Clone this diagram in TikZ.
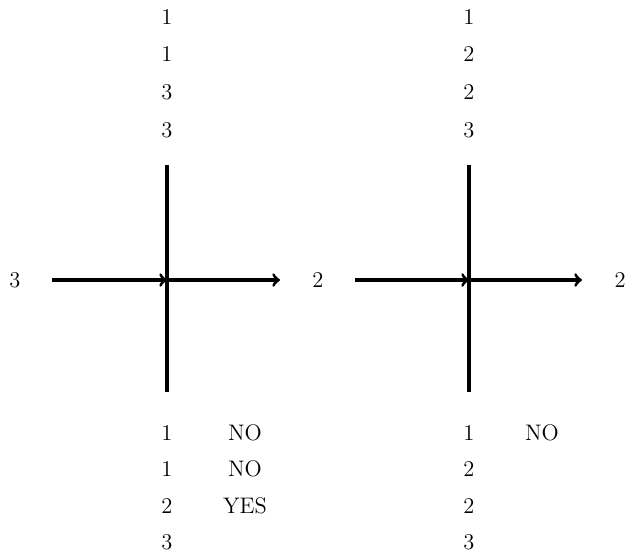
\documentclass[tikz,border=0pt]{standalone}
\begin{document}
\begin{tikzpicture}[x=0.6pt,y=-0.6pt,
  wire/.style={line width=1.85pt},
  arr/.style={line width=1.85pt,->},
  lbl/.style={inner sep=0pt,font=\fontsize{13.5}{16}\selectfont}]
\useasboundingbox (0,0) rectangle (625,556);
% left cross
\coordinate (lt) at (167,165);
\coordinate (lb) at (167,392);
\coordinate (lc) at (167,280);
\coordinate (ls) at (52,280);
\coordinate (le) at (280,280);
\draw[wire] (lt) -- (lb);
\draw[arr] (ls) -- (lc);
\draw[arr] (lc) -- (le);
\node[lbl] (lin) at (15,280) {3};
\node[lbl] (lout) at (318,280) {2};
\node[lbl] (lt1) at (167,17) {1};
\node[lbl] (lt2) at (167,54) {1};
\node[lbl] (lt3) at (167,92) {3};
\node[lbl] (lt4) at (167,130) {3};
\node[lbl] (lb1) at (167,433) {1};
\node[lbl] (lb2) at (167,469) {1};
\node[lbl] (lb3) at (167,506) {2};
\node[lbl] (lb4) at (167,542) {3};
\node[lbl] (ln1) at (245,433) {NO};
\node[lbl] (ln2) at (245,469) {NO};
\node[lbl] (ln3) at (245,506) {YES};
% right cross
\coordinate (rt) at (469,165);
\coordinate (rb) at (469,392);
\coordinate (rc) at (469,280);
\coordinate (rs) at (355,280);
\coordinate (re) at (582,280);
\draw[wire] (rt) -- (rb);
\draw[arr] (rs) -- (rc);
\draw[arr] (rc) -- (re);
\node[lbl] (rout) at (620,280) {2};
\node[lbl] (rt1) at (469,17) {1};
\node[lbl] (rt2) at (469,54) {2};
\node[lbl] (rt3) at (469,92) {2};
\node[lbl] (rt4) at (469,130) {3};
\node[lbl] (rb1) at (469,433) {1};
\node[lbl] (rb2) at (469,469) {2};
\node[lbl] (rb3) at (469,506) {2};
\node[lbl] (rb4) at (469,542) {3};
\node[lbl] (rn1) at (542,433) {NO};
\end{tikzpicture}
\end{document}
